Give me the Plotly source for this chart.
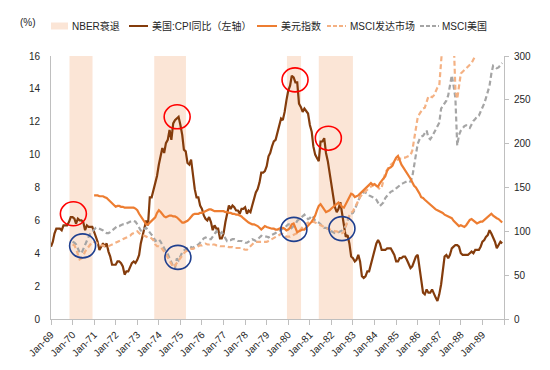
import pandas as pd
import plotly.graph_objects as go

# ---------------- data ----------------
cpi_yoy = [
    4.4, 4.7, 5.2, 5.5, 5.5, 5.5, 5.4, 5.7, 5.7, 5.7, 5.9, 6.2,   # 1969
    6.2, 6.1, 5.8, 6.1, 6.0, 6.0, 5.9, 5.4, 5.7, 5.6, 5.6, 5.6,   # 1970
    5.3, 5.0, 4.7, 4.2, 4.4, 4.6, 4.4, 4.6, 4.1, 3.8, 3.3, 3.3,   # 1971
    3.3, 3.5, 3.5, 3.4, 3.2, 2.7, 2.9, 2.9, 3.2, 3.4, 3.5, 3.4,   # 1972
    3.6, 3.9, 4.6, 5.1, 5.5, 6.0, 5.7, 7.4, 7.4, 7.8, 8.3, 8.7,   # 1973
    9.4, 10.0, 10.4, 10.1, 10.7, 10.9, 11.5, 10.9, 11.9, 12.1, 12.2, 12.3,  # 1974
    11.8, 11.2, 10.3, 10.2, 9.5, 9.4, 9.7, 8.6, 7.9, 7.4, 7.4, 6.9,  # 1975
    6.7, 6.3, 6.1, 6.0, 6.2, 5.9, 5.4, 5.7, 5.5, 5.5, 4.9, 4.9,   # 1976
    5.2, 5.9, 6.4, 6.9, 6.7, 6.9, 6.8, 6.6, 6.6, 6.4, 6.7, 6.7,   # 1977
    6.8, 6.4, 6.6, 6.5, 6.9, 7.4, 7.7, 7.9, 8.3, 8.9, 8.9, 9.0,   # 1978
    9.3, 9.9, 10.1, 10.5, 10.8, 10.9, 11.3, 11.8, 12.2, 12.1, 12.6, 13.3,  # 1979
    13.9, 14.2, 14.8, 14.7, 14.4, 14.4, 13.1, 12.9, 12.6, 12.8, 12.6, 12.5,  # 1980
    11.8, 11.4, 10.5, 10.0, 9.8, 9.6, 10.8, 10.8, 11.0, 10.1, 9.6, 8.9,  # 1981
    8.4, 7.6, 6.8, 6.5, 6.7, 7.1, 6.4, 5.9, 5.0, 5.1, 4.6, 3.8,   # 1982
    3.7, 3.5, 3.6, 3.9, 3.5, 2.6, 2.5, 2.6, 2.9, 2.9, 3.3, 3.8,   # 1983
    4.2, 4.6, 4.8, 4.6, 4.2, 4.2, 4.2, 4.3, 4.3, 4.3, 4.1, 3.9,   # 1984
    3.5, 3.5, 3.7, 3.7, 3.8, 3.8, 3.6, 3.3, 3.1, 3.2, 3.5, 3.8,   # 1985
    3.9, 3.1, 2.2, 1.6, 1.5, 1.8, 1.6, 1.6, 1.8, 1.5, 1.3, 1.1,   # 1986
    1.5, 2.1, 3.0, 3.8, 3.9, 3.7, 3.9, 4.3, 4.4, 4.5, 4.5, 4.4,   # 1987
    4.0, 3.9, 3.9, 3.9, 3.9, 4.0, 4.1, 4.0, 4.2, 4.2, 4.2, 4.4,   # 1988
    4.7, 4.8, 5.0, 5.1, 5.4, 5.2, 5.0, 4.7, 4.3, 4.5, 4.7, 4.6,   # 1989
]
cpi_start = "1969-01-01"

dollar_index = [
    141, 141, 141, 140, 140, 140, 139, 138, 136, 134, 131, 129,   # 1971
    128, 129, 129, 128, 128, 127, 127, 127, 127, 127, 127, 126,   # 1972
    124, 120, 117, 113, 110, 108, 108, 110, 111, 113, 116, 121,   # 1973
    124, 122, 119, 117, 116, 117, 118, 118, 117, 117, 116, 114,   # 1974
    112, 110, 110, 111, 112, 114, 117, 119, 120, 120, 120, 121,   # 1975
    121, 122, 123, 124, 125, 125, 124, 123, 123, 123, 123, 123,   # 1976
    123, 122, 122, 121, 121, 120, 120, 119, 119, 118, 117, 115,   # 1977
    113, 111, 110, 109, 108, 108, 107, 106, 104, 102, 104, 106,   # 1978
    105, 104, 104, 103, 103, 102, 102, 103, 104, 104, 103, 101,   # 1979
    102, 104, 108, 109, 104, 99, 100, 101, 102, 102, 104, 107,    # 1980
    108, 111, 114, 118, 124, 129, 131, 128, 124, 122, 123, 124,   # 1981
    126, 128, 130, 132, 133, 131, 128, 127, 131, 135, 140, 143,   # 1982
    142, 139, 140, 141, 143, 145, 147, 148, 150, 152, 155, 153,   # 1983
    154, 152, 151, 155, 158, 160, 163, 169, 172, 173, 175, 180,   # 1984
    184, 186, 180, 176, 173, 170, 167, 164, 160, 156, 152, 150,   # 1985
    147, 143, 139, 138, 136, 134, 133, 131, 129, 126, 125, 124,   # 1986
    123, 122, 121, 119, 118, 117, 116, 115, 112, 110, 108, 106,   # 1987
    107, 106, 105, 107, 110, 113, 114, 112, 110, 109, 110, 111,   # 1988
    111, 113, 115, 117, 119, 120, 118, 116, 115, 114, 112, 110,   # 1989
]
dollar_start = "1971-01-01"

msci_developed = [
    85, 84, 80, 74, 68, 69, 72, 77, 80, 83, 86, 88,               # 1970
    88, 87, 86, 85, 84, 84, 83, 83, 83, 84, 85, 86,               # 1971
    87, 88, 89, 90, 91, 92, 93, 94, 95, 97, 98, 99,               # 1972
    100, 98, 96, 95, 95, 94, 93, 93, 92, 90, 85, 83,              # 1973
    83, 82, 80, 77, 74, 70, 66, 62, 59, 61, 64, 66,               # 1974
    70, 72, 75, 77, 78, 79, 80, 80, 81, 82, 83, 84,               # 1975
    84, 85, 86, 85, 85, 86, 85, 85, 84, 84, 83, 83,               # 1976
    83, 83, 83, 82, 82, 82, 81, 81, 81, 81, 81, 80,               # 1977
    79, 79, 81, 83, 86, 87, 88, 88, 88, 88, 88, 88,               # 1978
    88, 89, 90, 92, 93, 94, 95, 96, 97, 97, 95, 94,               # 1979
    94, 94, 95, 96, 97, 98, 100, 103, 105, 107, 109, 110,         # 1980
    110, 111, 111, 110, 109, 108, 107, 106, 105, 104, 103, 102,   # 1981
    102, 101, 100, 100, 99, 98, 98, 99, 106, 112, 118, 121,       # 1982
    123, 127, 131, 136, 139, 142, 144, 146, 148, 150, 151, 152,   # 1983
    154, 152, 150, 148, 150, 158, 167, 170, 174, 176, 178, 180,   # 1984
    181, 182, 183, 183, 184, 184, 185, 186, 187, 192, 205, 215,   # 1985
    230, 234, 237, 240, 241, 248, 254, 254, 253, 255, 260, 264,   # 1986
    266, 300, 318, 330, 338, 335, 340, 345, 320, 262, 251, 265,   # 1987
    280, 282, 284, 286, 288, 290, 292, 296, 300, 310, 318, 322,   # 1988
    330, 332, 336, 340, 345, 350, 360, 365, 362, 368, 372, 378,   # 1989
]
msci_us = [
    88, 87, 85, 80, 76, 75, 80, 84, 90, 94, 98, 100,              # 1970
    103, 104, 104, 103, 102, 101, 99, 98, 98, 99, 101, 103,       # 1971
    104, 106, 106, 107, 108, 108, 109, 110, 111, 112, 112, 111,   # 1972
    108, 104, 101, 100, 103, 104, 101, 98, 96, 94, 89, 90,        # 1973
    91, 88, 84, 80, 77, 74, 69, 66, 60, 58, 69, 67,               # 1974
    72, 76, 78, 80, 82, 83, 82, 81, 83, 84, 85, 87,               # 1975
    90, 92, 93, 92, 91, 91, 94, 97, 100, 97, 97, 99,              # 1976
    95, 91, 89, 90, 90, 91, 91, 90, 89, 89, 89, 88,               # 1977
    87, 87, 88, 90, 91, 90, 89, 91, 93, 95, 94, 94,               # 1978
    94, 93, 95, 96, 97, 98, 100, 101, 102, 103, 104, 106,         # 1979
    108, 108, 104, 106, 108, 112, 114, 116, 118, 119, 116, 114,   # 1980
    115, 118, 116, 112, 111, 110, 108, 106, 104, 104, 103, 102,   # 1981
    100, 99, 98, 98, 99, 100, 101, 103, 106, 112, 118, 120,       # 1982
    121, 125, 131, 135, 140, 143, 145, 144, 143, 141, 140, 139,   # 1983
    138, 136, 133, 129, 131, 133, 138, 141, 143, 145, 146, 147,   # 1984
    149, 151, 152, 154, 155, 156, 157, 156, 157, 162, 176, 188,   # 1985
    200, 205, 208, 209, 212, 215, 207, 205, 208, 212, 216, 220,   # 1986
    224, 240, 243, 247, 249, 255, 265, 278, 266, 252, 198, 210,   # 1987
    215, 218, 220, 221, 219, 218, 222, 226, 228, 231, 232, 236,   # 1988
    240, 246, 252, 260, 266, 280, 289, 288, 286, 287, 290, 292,   # 1989
]
msci_start = "1970-01-01"

recession_start = ["1969-11-10", "1973-10-15", "1979-12-10", "1981-06-01"]
recession_end = ["1970-12-05", "1975-04-05", "1980-08-05", "1982-12-31"]

tick_years = list(range(1969, 1991))
tick_labels = [f"Jan-{str(y)[2:]}" if y < 1990 else "" for y in tick_years]

# highlight circles (anchored on the CPI / left axis)
red_circle_dates = ["1970-01-15", "1974-11-07", "1980-04-25", "1981-11-10"]
red_circle_vals = [6.4, 12.3, 14.55, 11.0]
blue_circle_dates = ["1970-06-20", "1974-11-20", "1980-04-05", "1982-06-28"]
blue_circle_vals = [4.45, 3.75, 5.45, 5.5]

series_names = ["NBER衰退", "美国:CPI同比（左轴）", "美元指数", "MSCI发达市场", "MSCI美国"]

# ---------------- figure ----------------
FONT = "Liberation Sans, Arial, Noto Sans CJK SC, sans-serif"
C_REC = "#FBE5D6"
C_CPI = "#843C0C"
C_USD = "#ED7D31"
C_DEV = "#F4B183"
C_US = "#A5A5A5"

def mdates(start, n):
    return pd.date_range(start, periods=n, freq="MS")

fig = go.Figure()

for s, e in zip(recession_start, recession_end):
    fig.add_vrect(x0=s, x1=e, fillcolor=C_REC, opacity=1, line_width=0, layer="below")

fig.add_trace(go.Scatter(x=mdates(msci_start, len(msci_us)), y=msci_us, yaxis="y2",
                         mode="lines", line=dict(color=C_US, width=2.2, dash="5px,3px"),
                         name=series_names[4], showlegend=False))
fig.add_trace(go.Scatter(x=mdates(msci_start, len(msci_developed)), y=msci_developed, yaxis="y2",
                         mode="lines", line=dict(color=C_DEV, width=2.2, dash="5px,3px"),
                         name=series_names[3], showlegend=False))
fig.add_trace(go.Scatter(x=mdates(dollar_start, len(dollar_index)), y=dollar_index, yaxis="y2",
                         mode="lines", line=dict(color=C_USD, width=2.2),
                         name=series_names[2], showlegend=False))
fig.add_trace(go.Scatter(x=mdates(cpi_start, len(cpi_yoy)), y=cpi_yoy, yaxis="y",
                         mode="lines", line=dict(color=C_CPI, width=2.2),
                         name=series_names[1], showlegend=False))

for d, v in zip(red_circle_dates, red_circle_vals):
    fig.add_shape(type="circle", xref="x", yref="y", xsizemode="pixel", ysizemode="pixel",
                  xanchor=d, yanchor=v, x0=-13, x1=13, y0=-12, y1=12,
                  line=dict(color="#FF0000", width=1.6))
for d, v in zip(blue_circle_dates, blue_circle_vals):
    fig.add_shape(type="circle", xref="x", yref="y", xsizemode="pixel", ysizemode="pixel",
                  xanchor=d, yanchor=v, x0=-13, x1=13, y0=-12, y1=12,
                  line=dict(color="#1F3F8F", width=1.6))

# ---------------- manual legend (pixel layout) ----------------
PL, PR, PT, PB = 51, 504, 56, 319
def px(xp):
    return (xp - PL) / (PR - PL)
def py(yp):
    return (PB - yp) / (PB - PT)

LY = 26
fig.add_shape(type="rect", xref="paper", yref="paper", x0=px(51), x1=px(68),
              y0=py(29.5), y1=py(22.5), fillcolor=C_REC, line_width=0)
legend_lines = [(129, 148, C_CPI, "solid"), (257, 277, C_USD, "solid"),
                (327, 346, C_DEV, "4px,2px"), (420, 439, C_US, "4px,2px")]
for x0, x1, c, d in legend_lines:
    fig.add_shape(type="line", xref="paper", yref="paper", x0=px(x0), x1=px(x1),
                  y0=py(LY), y1=py(LY), line=dict(color=c, width=2, dash=d))
legend_text_x = [70, 150, 279, 348, 440]
for t, xt in zip(series_names, legend_text_x):
    fig.add_annotation(text=t, xref="paper", yref="paper", x=px(xt), y=py(LY),
                       xanchor="left", yanchor="middle", showarrow=False,
                       font=dict(size=10, color="#262626", family=FONT))
fig.add_annotation(text="(%)", xref="paper", yref="paper", x=px(18), y=py(22),
                   xanchor="left", yanchor="middle", showarrow=False,
                   font=dict(size=10, color="#262626", family=FONT))

fig.update_layout(
    width=550, height=370, autosize=False,
    margin=dict(l=PL, r=550 - PR, t=PT, b=370 - PB, pad=0),
    paper_bgcolor="white", plot_bgcolor="white",
    font=dict(family=FONT, size=10, color="#262626"),
    showlegend=False,
    xaxis=dict(type="date", range=["1969-01-01", "1990-01-01"],
               tickvals=[f"{y}-01-01" for y in tick_years], ticktext=tick_labels,
               tickangle=-45, ticks="outside", ticklen=5, tickcolor="#BFBFBF",
               showline=True, linecolor="#BFBFBF", linewidth=1, showgrid=False,
               zeroline=False, tickfont=dict(size=10, color="#262626")),
    yaxis=dict(range=[0, 16], dtick=2, tick0=0, showline=True, linecolor="#BFBFBF",
               linewidth=1, showgrid=False, zeroline=False, ticks="",
               ticklabelstandoff=8, tickfont=dict(size=10, color="#262626")),
    yaxis2=dict(range=[0, 300], dtick=50, tick0=0, overlaying="y", side="right",
                showline=True, linecolor="#BFBFBF", linewidth=1, showgrid=False,
                zeroline=False, ticks="outside", ticklen=4, tickcolor="#BFBFBF",
                ticklabelstandoff=3, tickfont=dict(size=10, color="#262626")),
)

fig.write_html("out.html", config={"displayModeBar": False, "staticPlot": True},
               post_script="document.body.style.margin='0px';document.body.style.overflow='hidden';")
